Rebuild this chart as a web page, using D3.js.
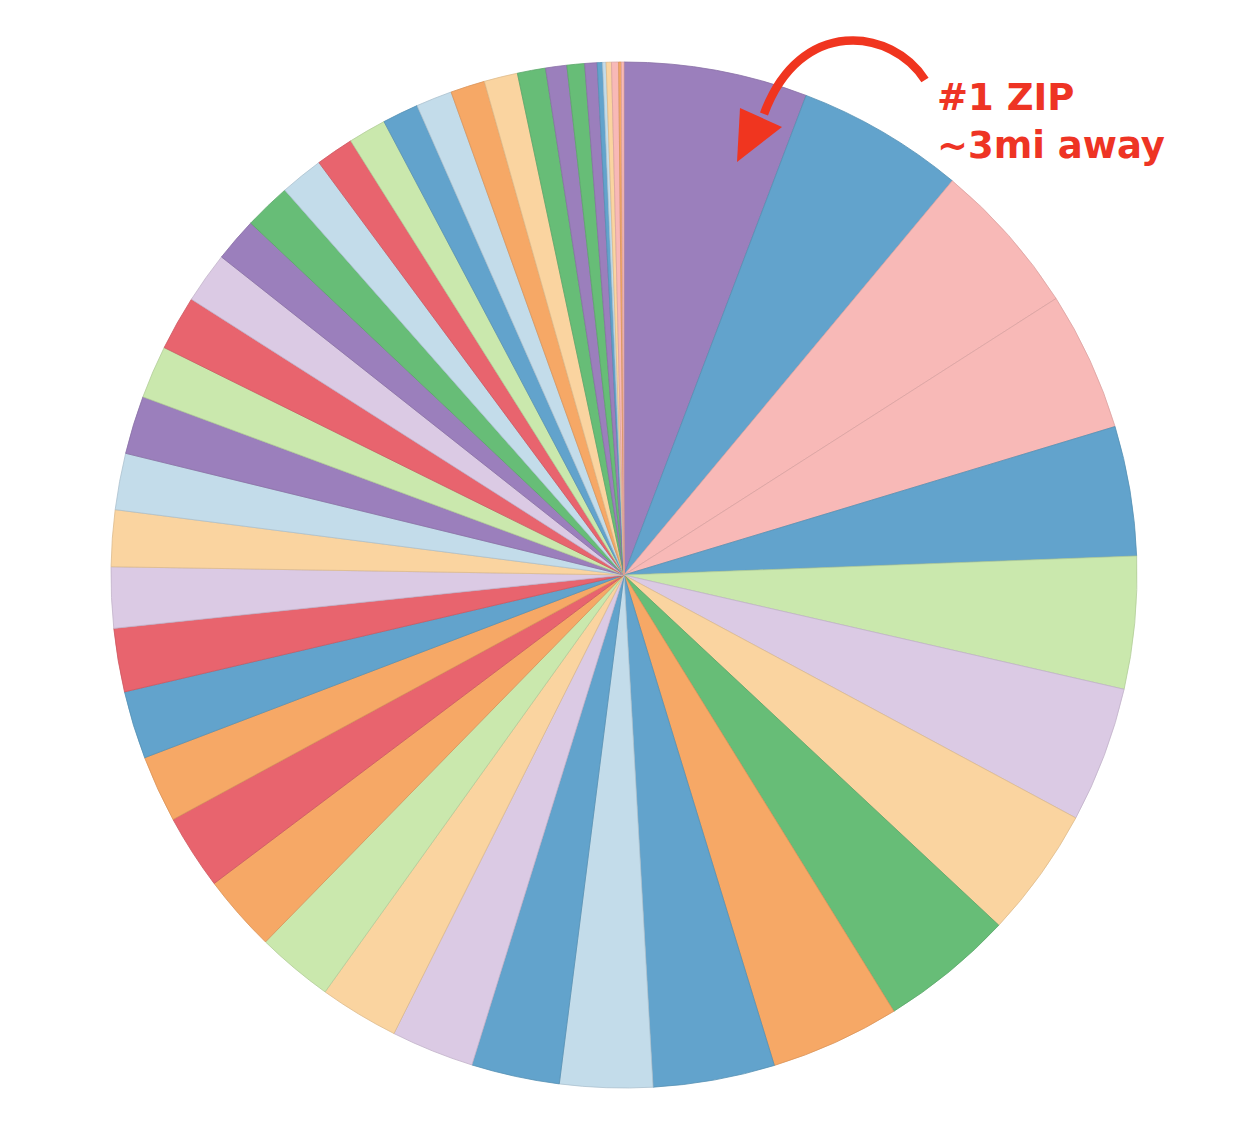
<!DOCTYPE html>
<html>
<head>
<meta charset="utf-8">
<script src="https://cdn.jsdelivr.net/npm/d3@7"></script>
<style>
  html, body { margin: 0; padding: 0; background: #ffffff; }
  svg { display: block; }
</style>
</head>
<body>
<svg id="chart" width="1252" height="1122"></svg>
<script>
// ZIP codes ranked by share (order as drawn, clockwise from 12 o'clock)
const zips = d3.range(1, 48).map(i => "ZIP " + String(i).padStart(2, "0"));
const counts = [208, 190, 176, 158, 147, 150, 154, 148, 152, 147, 138, 105, 100, 94, 90, 87,
                87, 85, 76, 77, 72, 69, 64, 64, 66, 60, 62, 58, 50, 53, 49, 43, 43, 41, 41,
                39, 38, 32, 24, 20, 14, 6, 4, 6, 8, 3, 3];
const colorKeys = ["purple", "blue", "pink", "pink", "blue", "lgreen", "lpurple", "lorange",
                   "green", "orange", "blue", "lblue", "blue", "lpurple", "lorange", "lgreen",
                   "orange", "red", "orange", "blue", "red", "lpurple", "lorange", "lblue",
                   "purple", "lgreen", "red", "lpurple", "purple", "green", "lblue", "red",
                   "lgreen", "blue", "lblue", "orange", "lorange", "green", "purple", "green",
                   "purple", "blue", "lblue", "lorange", "pink", "orange", "pink"];
const paletteNames = ["purple", "blue", "pink", "lgreen", "lpurple", "lorange", "green", "orange", "lblue", "red"];
const paletteColors = ["#9b7fbc", "#62a3cc", "#f8b9b7", "#cae8ad", "#dbcae4", "#fad4a0", "#67bd77", "#f6a866", "#c3dcea", "#e8646e"];
const annotationLines = ["#1 ZIP", "~3mi away"];

const data = zips.map((z, i) => ({ zip: z, count: counts[i], key: colorKeys[i] }));

const color = d3.scaleOrdinal().domain(paletteNames).range(paletteColors);

const svg = d3.select("#chart");
const cx = 624, cy = 575, R = 513;

const pie = d3.pie().sort(null).value(d => d.count);
const arc = d3.arc().innerRadius(0).outerRadius(R);

const g = svg.append("g").attr("transform", `translate(${cx},${cy})`);

g.selectAll("path.slice")
  .data(pie(data))
  .join("path")
  .attr("class", "slice")
  .attr("d", arc)
  .attr("fill", d => color(d.data.key))
  .attr("stroke", d => d3.color(color(d.data.key)).darker(0.35))
  .attr("stroke-width", 0.8)
  .attr("stroke-linejoin", "round");

// Annotation
const red = "#f0351f";
svg.append("path")
  .attr("d", "M 925 80 C 892 28, 800 16, 764 114")
  .attr("fill", "none")
  .attr("stroke", red)
  .attr("stroke-width", 8.5);
svg.append("path")
  .attr("d", "M 740 108 L 782 127 L 737 162 Z")
  .attr("fill", red);

svg.append("g")
  .selectAll("text")
  .data(annotationLines)
  .join("text")
  .attr("x", 937)
  .attr("y", (d, i) => 110 + i * 48)
  .attr("font-family", "'DejaVu Sans', Verdana, sans-serif")
  .attr("font-weight", "bold")
  .attr("font-size", 37)
  .attr("fill", "#ee3424")
  .text(d => d);
</script>
</body>
</html>
